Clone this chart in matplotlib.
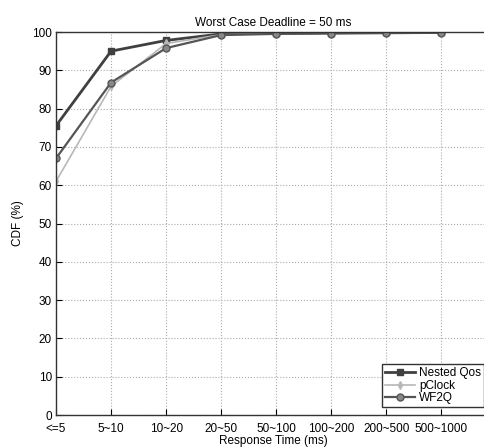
import numpy as np
import matplotlib.pyplot as plt

plt.rcParams['font.family'] = ['Liberation Sans', 'DejaVu Sans']

categories = ['<=5', '5~10', '10~20', '20~50', '50~100', '100~200', '200~500', '500~1000']
nested_qos = [75.5, 95.0, 97.8, 99.5, 99.7, 99.8, 99.9, 99.9]
pclock = [61.0, 85.8, 97.0, 99.3, 99.6, 99.7, 99.8, 99.9]
wf2q = [67.0, 86.8, 95.8, 99.2, 99.5, 99.6, 99.7, 99.8]

x = np.arange(len(categories))

fig = plt.figure(figsize=(4.85, 4.47), dpi=100)
ax = fig.add_axes([56/485, 1 - 415/447, (485 - 56)/485 + 0.01, (415 - 32)/447])

ax.plot(x, nested_qos, '-s', color='#404040', lw=2.0, ms=5, label='Nested Qos')
ax.plot(x, pclock, '-d', color='#b8b8b8', lw=1.2, ms=4, label='pClock')
ax.plot(x, wf2q, '-o', color='#555555', lw=1.6, ms=5, mfc='#888888', label='WF2Q')

ax.set_xlim(0, 7.88)
ax.set_ylim(0, 100)
ax.set_xticks(x)
ax.set_xticklabels(categories, fontsize=8.5)
ax.set_yticks(np.arange(0, 101, 10))
ax.tick_params(axis='y', labelsize=8.5, direction='in', length=4, pad=3)
ax.tick_params(axis='x', direction='in', length=4, pad=6)
ax.grid(True, linestyle=':', color='#aaaaaa', lw=0.8)
for s in ax.spines.values():
    s.set_color('#333333')
    s.set_linewidth(1.0)

ax.set_title('Worst Case Deadline = 50 ms', fontsize=8.5, pad=4)
ax.set_xlabel('Response Time (ms)', fontsize=8.5, labelpad=0)
ax.set_ylabel('CDF (%)', fontsize=8.5, labelpad=6)

leg = ax.legend(loc='lower right', bbox_to_anchor=(1.0, 0.005), fontsize=8.5,
                fancybox=False, framealpha=1, edgecolor='#333333',
                handlelength=2.6, borderpad=0.25, labelspacing=0.05, handletextpad=0.3)
leg.get_frame().set_linewidth(1.0)

fig.savefig('out.png', dpi=100)
